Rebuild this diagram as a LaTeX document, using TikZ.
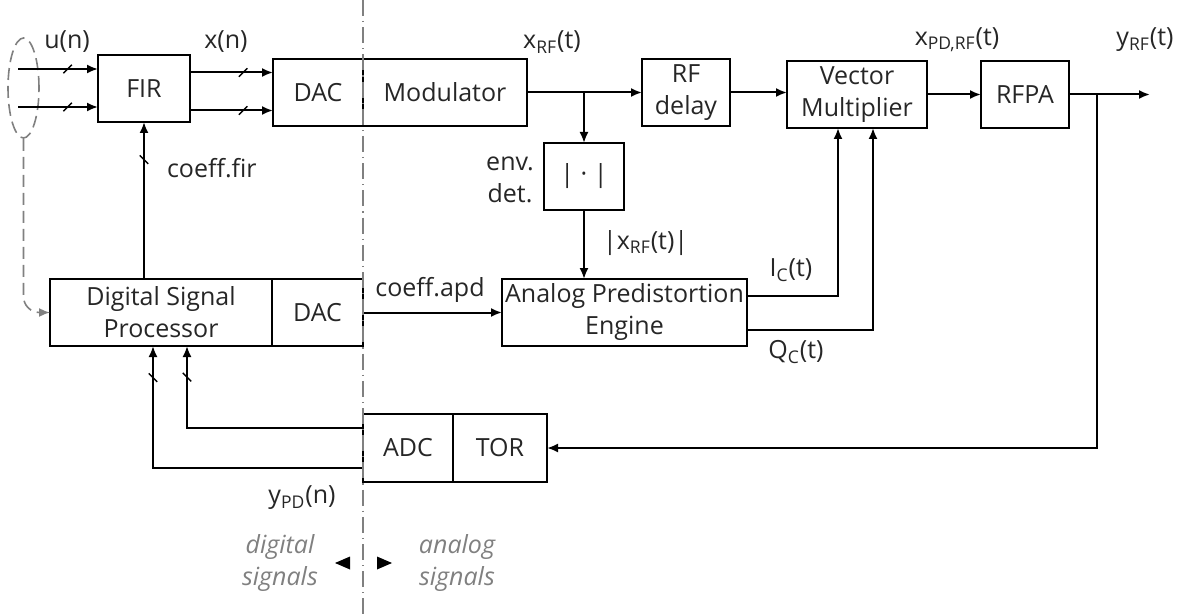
\documentclass[tikz,border=0pt]{standalone}
\usepackage{fontspec}
\setmainfont{Open Sans}
\usepackage{tikz}
\usetikzlibrary{positioning,shapes.geometric,arrows.meta,calc}

\newcommand{\sbs}[1]{\textsubscript{#1}}

\tikzset{
  blk/.style={draw, line width=1pt, inner sep=0pt, outer sep=0pt, minimum height=33.5pt, align=center},
  sig/.style={line width=1pt, -{Latex[length=5.5pt,width=4.5pt]}},
  bus/.style={sloped, draw, line width=0.7pt, line join=bevel, inner sep=0pt, outer sep=0pt, minimum width=6pt, minimum height=0pt, rotate=45},
  guide/.style={draw=gray, line width=0.8pt, dash pattern=on 6pt off 3pt},
  side/.style={align=center, text=gray, font=\fontsize{12.5pt}{16pt}\selectfont\itshape},
}

\begin{document}
\begin{tikzpicture}[x=0.5pt,y=-0.5pt,font=\fontsize{12.5pt}{16pt}\selectfont,text=black!85]
  \useasboundingbox (0,0) rectangle (1178,615);

  % blocks, forward path
  \node[blk,minimum width=46pt] (fir) at (144,88.5) {FIR};
  \node[blk,minimum width=45pt] (dac) at (318,92.5) {DAC};
  \node[blk,minimum width=82pt,right=0pt of dac] (mod) {Modulator};
  \node[blk,minimum width=44pt] (delay) at (686,92.5) {RF\\delay};
  \node[blk,minimum width=70pt] (vm) at (857,94.5) {Vector\\Multiplier};
  \node[blk,minimum width=44pt] (rfpa) at (1025,94.5) {RFPA};
  % envelope detector and predistorter
  \node[blk,minimum width=40pt] (env) at (584,176.5) {| · |};
  \node[blk,minimum width=122.5pt] (ape) at (624.5,312.5) {Analog Predistortion\\Engine};
  % digital side and observation path
  \node[blk,minimum width=111pt] (dsp) at (161,312.5) {Digital Signal\\Processor};
  \node[blk,minimum width=45.5pt,right=0pt of dsp] (dac2) {DAC};
  \node[blk,minimum width=45pt,minimum height=34pt] (adc) at (408,448) {ADC};
  \node[blk,minimum width=47pt,minimum height=34pt,right=0pt of adc] (tor) {TOR};

  % input bundle
  \node[guide,ellipse,inner sep=0pt,minimum width=15.5pt,minimum height=50pt] (bundle) at (23.5,88) {};
  \foreach \dy in {-19.5,18.5}{
    \coordinate (t) at ($(fir.west)+(0,\dy)$);
    \draw[sig] ($(t)+(-80,0)$) -- node[bus,pos=0.62]{} (t);
  }
  \draw[guide,rounded corners=8pt,-{Latex[length=5.5pt,width=4.5pt]}] (bundle.south) |- (dsp.west);

  % FIR -> DAC
  \foreach \dy in {-20,18}{
    \coordinate (t) at ($(dac.west)+(0,\dy)$);
    \draw[sig] (t -| fir.east) -- node[bus,pos=0.64]{} (t);
  }

  % RF chain
  \coordinate (split) at (env.north |- mod.east);
  \coordinate (tap) at (1097,94.5);
  \coordinate (out) at (1150,94.5);
  \draw[sig] (mod.east) -- (delay.west);
  \draw[sig] (split) -- (env.north);
  \draw[sig] (delay.east) -- (delay.east -| vm.west);
  \draw[sig] (vm.east) -- (rfpa.west);
  \draw[sig] (rfpa.east) -- (out);
  \draw[sig] (tap) |- (tor.east);

  % predistortion controls
  \draw[sig] (env.south) -- (env.south |- ape.north);
  \draw[sig] ($(ape.east)+(0,-16.5)$) -| ($(vm.south)+(-19,0)$);
  \draw[sig] ($(ape.east)+(0,17.5)$) -| ($(vm.south)+(16,0)$);
  \draw[sig] (dac2.east) -- (ape.west);

  % coefficients and feedback
  \draw[sig] (fir.south |- dsp.north) -- node[bus,pos=0.76]{} (fir.south);
  \draw[sig] ($(adc.west)+(0,-20)$) -| node[bus,pos=0.81]{} ($(dsp.south)+(26,0)$);
  \draw[sig] ($(adc.west)+(0,20)$) -| node[bus,pos=0.87]{} ($(dsp.south)+(-8,0)$);

  % labels
  \node (lu) at (67,42) {u(n)};
  \node (lx) at (226,42) {x(n)};
  \node (lxrf) at (552,42) {x\sbs{RF}(t)};
  \node (lxpd) at (957,40) {x\sbs{PD,RF}(t)};
  \node (lyrf) at (1145,40) {y\sbs{RF}(t)};
  \node[anchor=west] (lfir) at (160,168) {coeff.fir};
  \node[align=center] (lenv) at (510,180) {env.\\det.};
  \node[anchor=west] (labs) at (596,243) {|x\sbs{RF}(t)|};
  \node (lapd) at (430,290) {coeff.apd};
  \node (lic) at (791,270) {I\sbs{C}(t)};
  \node (lqc) at (796,352) {Q\sbs{C}(t)};
  \node (lypd) at (302,498) {y\sbs{PD}(n)};

  % domain boundary
  \coordinate (dtop) at (363,0);
  \coordinate (dbot) at (363,615);
  \draw[gray,line width=0.8pt,dash pattern=on 8pt off 2.5pt on 0.6pt off 2.5pt] (dtop) -- (dbot);
  \node[side] (ldig) at (280,563) {digital\\signals};
  \node[side] (lana) at (457,563) {analog\\signals};
  \fill (350,556.5) -- (350,569.5) -- (335,563) -- cycle;
  \fill (377,556.5) -- (377,569.5) -- (392,563) -- cycle;
\end{tikzpicture}
\end{document}
